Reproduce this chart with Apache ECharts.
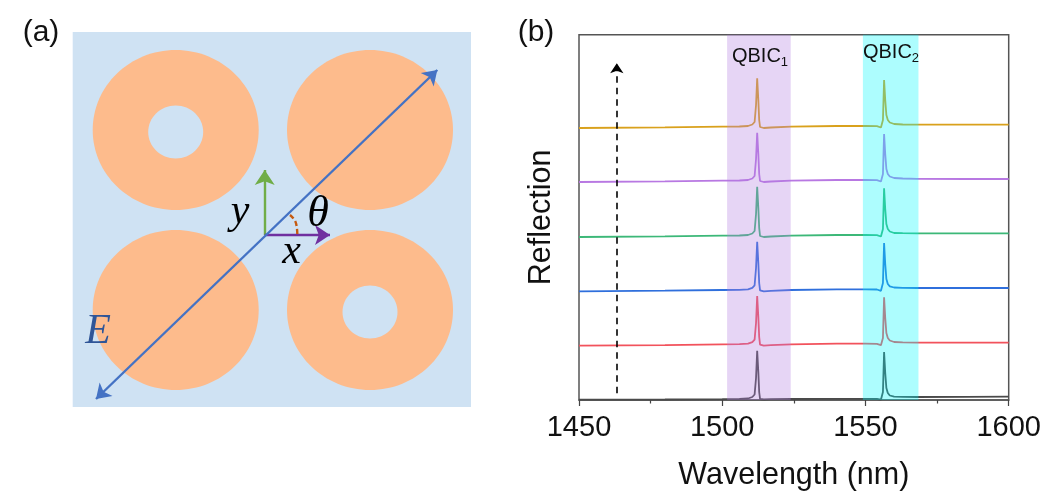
<!DOCTYPE html>
<html><head><meta charset="utf-8">
<script src="https://cdn.jsdelivr.net/npm/echarts@6/dist/echarts.min.js"></script>
<style>html,body{margin:0;padding:0;background:#fff}#c{width:1045px;height:492px}</style>
</head><body><div id="c"></div>
<script>
const wavelengths=[1450,1480,1500,1506,1509,1510.5,1511.3,1511.8,1512.2,1512.6,1512.9,1513.2,1513.6,1514.5,1517,1524,1540,1550,1554,1555.4,1555.8,1556.1,1556.5,1556.9,1557.3,1557.8,1558.5,1560,1563,1568,1585,1600];
const traceGold=[272,272.6,273.3,273.5,274,275.5,278,295,321.7,300,280,273,271.5,272,272.5,273.3,274,274,273.8,272.5,272,280,320,300,285,280,277.5,276,275.5,275.3,275.3,275.3];
const tracePurple=[218,218.6,219.3,219.5,220,221.5,224,241,267.3,246,226,219,217.5,218,218.5,219.3,220,220,219.8,218.5,218,226,266,246,231,226,223.5,222,221.5,221.2,221,221];
const traceGreen=[163,163.6,164.3,164.5,165,166.5,169,186,213.3,192,172,164,162.5,163,163.5,164.3,165,165,164.8,163.5,163,171,211.7,191,176,171,168.5,167,166.8,166.7,166.7,166.7];
const traceBlue=[108.7,109.3,110,110.2,110.7,112.2,114.7,132,158.3,137,117,109.7,108.2,108.7,109.2,110,110.7,110.7,110.5,109.2,108.7,117,157,136,121,116,113.7,112.5,112.2,112,112,112];
const traceRed=[54.3,54.9,55.6,55.8,56.3,57.8,60.3,77,104,83,63,55.3,53.8,54.3,54.8,55.6,56.3,56.3,56.1,54.8,54.3,62,102.7,82,67,62,59.5,58,57.6,57.4,57.3,57.3];
const traceBlack=[0.3,0.5,0.8,1,1.5,3,5.5,22,49.3,28,8,1,0.3,0.5,0.8,1,1.2,1.2,1,0.3,0.1,8,48,27,12,7,4.5,3.4,3.2,3,3.1,3.3];
const traces=[traceBlack,traceRed,traceBlue,traceGreen,tracePurple,traceGold];
const traceColors=['#4a4a4a','#f2525c','#2f6fdc','#3cb878','#b878e2','#d9a11c'];
const bands=[[1501.7,1523.9,'rgba(177,124,224,0.32)'],[1549.1,1568.5,'rgba(0,250,253,0.32)']];
const xTicks=[1450,1500,1550,1600];
const riseArrow=[[1463.2,6.7],[1463.2,336.7]];
// panel (a), drawn in its own unit square
const rings=[[103,277,83,80,27.5,26.5],[297.3,277,83,80,0,0],[103,97,83,80,0,0],[297.3,97,83,80,27.5,26.5]];
const holeOffsets=[[0,-2],[0,0],[0,0],[0,-2]];
const fieldE=[[23.3,8],[364.6,337]];
const axisX=[[192,172],[257.3,172]];
const axisY=[[192,172],[192,237]];
const thetaArc=[[217.3,192],[223.3,183.7],[224.6,173]];

const chart=echarts.init(document.getElementById('c'),null,{renderer:'canvas'});
const serif='"Liberation Serif"';
const sans='"Liberation Sans"';
function txt(x,y,text,font,fill,extra){return {type:'text',x:x,y:y,z:50,style:Object.assign({text:text,font:font,fill:fill||'#000',align:'center',verticalAlign:'middle'},extra||{})};}
function qbic(x,y,n){return {type:'text',x:x,y:y,z:50,style:{text:'{m|QBIC}{s|'+n+'}',align:'center',verticalAlign:'middle',rich:{
  m:{font:'20px '+sans,fill:'#111',lineHeight:26,verticalAlign:'middle'},
  s:{font:'13px '+sans,fill:'#111',lineHeight:26,verticalAlign:'bottom'}}}};}
chart.setOption({
  animation:false,
  backgroundColor:'#fff',
  grid:[
    {left:72.7,top:32,width:398.3,height:375,show:true,backgroundColor:'#cfe2f3',borderWidth:0,outerBoundsMode:'none'},
    {left:579,top:34.7,width:429.7,height:365.3,show:true,backgroundColor:'transparent',borderColor:'#555',borderWidth:1.5,outerBoundsMode:'none'}
  ],
  xAxis:[
    {gridIndex:0,type:'value',min:0,max:398.3,show:false},
    {gridIndex:1,type:'value',min:1450,max:1600,interval:50,
     name:'Wavelength (nm)',nameLocation:'middle',nameGap:60,
     nameTextStyle:{fontFamily:sans,fontSize:30.5,color:'#111'},
     axisLine:{lineStyle:{color:'#555',width:1.5}},
     axisTick:{show:true,inside:false,length:6,lineStyle:{color:'#444',width:1.2}},
     minorTick:{show:true,splitNumber:2,length:3.5,lineStyle:{color:'#444',width:1.2}},
     splitLine:{show:false},minorSplitLine:{show:false},
     axisLabel:{fontFamily:sans,fontSize:29,color:'#111',margin:13,
       formatter:function(v){return xTicks.indexOf(v)>=0?String(v):'';},hideOverlap:false,showMinLabel:true,showMaxLabel:true}}
  ],
  yAxis:[
    {gridIndex:0,type:'value',min:0,max:375,show:false},
    {gridIndex:1,type:'value',min:0,max:365.3,name:'Reflection',nameLocation:'middle',nameGap:22,
     nameTextStyle:{fontFamily:sans,fontSize:30.5,color:'#111'},
     axisLine:{show:false},axisTick:{show:false},axisLabel:{show:false},splitLine:{show:false}}
  ],
  series:[
    {type:'custom',name:'rings',xAxisIndex:0,yAxisIndex:0,silent:true,clip:false,z:1,data:rings.map((r,i)=>r.concat(holeOffsets[i])),
     renderItem:function(p,api){
       const c=api.coord([api.value(0),api.value(1)]);
       const s=api.size([api.value(2),api.value(3)]);
       const h=api.size([api.value(4),api.value(5)]);
       const hc=api.coord([api.value(0)+api.value(6),api.value(1)+api.value(7)]);
       const kids=[{type:'ellipse',shape:{cx:c[0],cy:c[1],rx:s[0],ry:s[1]},style:{fill:'#fdbb8c'}}];
       if(api.value(4)>0)kids.push({type:'ellipse',shape:{cx:hc[0],cy:hc[1],rx:h[0],ry:h[1]},style:{fill:'#cfe2f3'}});
       return {type:'group',children:kids};
     }},
    {type:'lines',name:'y axis',coordinateSystem:'cartesian2d',xAxisIndex:0,yAxisIndex:0,silent:true,z:3,symbol:['none','arrow'],symbolSize:[0,15],
     lineStyle:{color:'#70ad47',width:2.4,opacity:1},data:[{coords:axisY}]},
    {type:'lines',name:'x axis',coordinateSystem:'cartesian2d',xAxisIndex:0,yAxisIndex:0,silent:true,z:3,symbol:['none','arrow'],symbolSize:[0,15],
     lineStyle:{color:'#7030a0',width:2.4,opacity:1},data:[{coords:axisX}]},
    {type:'lines',name:'E',coordinateSystem:'cartesian2d',xAxisIndex:0,yAxisIndex:0,silent:true,z:4,symbol:['arrow','arrow'],symbolSize:[14,14],
     lineStyle:{color:'#4472c4',width:2.4,opacity:1},data:[{coords:fieldE}]},
    {type:'line',name:'theta',xAxisIndex:0,yAxisIndex:0,silent:true,z:4,smooth:true,showSymbol:false,symbol:'none',
     lineStyle:{color:'#c55a11',width:2.4,type:[5,3]},data:thetaArc},
    ...traces.map((t,i)=>({type:'line',name:'trace'+i,xAxisIndex:1,yAxisIndex:1,silent:true,z:3,showSymbol:false,symbol:'none',
      lineStyle:{color:traceColors[i],width:1.8},data:wavelengths.map((w,j)=>[w,t[j]])})),
    {type:'custom',name:'bands',xAxisIndex:1,yAxisIndex:1,silent:true,clip:false,z:6,data:bands,
     renderItem:function(p,api){
       const a=api.coord([api.value(0),365.3]);
       const b=api.coord([api.value(1),0]);
       return {type:'rect',shape:{x:a[0],y:a[1],width:b[0]-a[0],height:b[1]-a[1]},style:{fill:bands[p.dataIndex][2]}};
     }},
    {type:'lines',name:'rise',coordinateSystem:'cartesian2d',xAxisIndex:1,yAxisIndex:1,silent:true,z:7,symbol:['none','arrow'],symbolSize:[0,10],
     lineStyle:{color:'#000',width:1.6,type:[6.5,5],opacity:1},data:[{coords:riseArrow}]}
  ],
  graphic:[
    txt(41,33,'(a)','30px '+sans,'#111'),
    txt(536,33,'(b)','30px '+sans,'#111'),
    txt(240,212,'y','italic 42px '+serif,'#000'),
    txt(291.5,252,'x','italic 42px '+serif,'#000'),
    txt(318,214,'\u03b8','italic 44px '+serif,'#000'),
    txt(98,332,'E','italic 42px '+serif,'#2f5597'),
    qbic(760,56,'1'),
    qbic(891,52,'2')
  ]
});
</script></body></html>
